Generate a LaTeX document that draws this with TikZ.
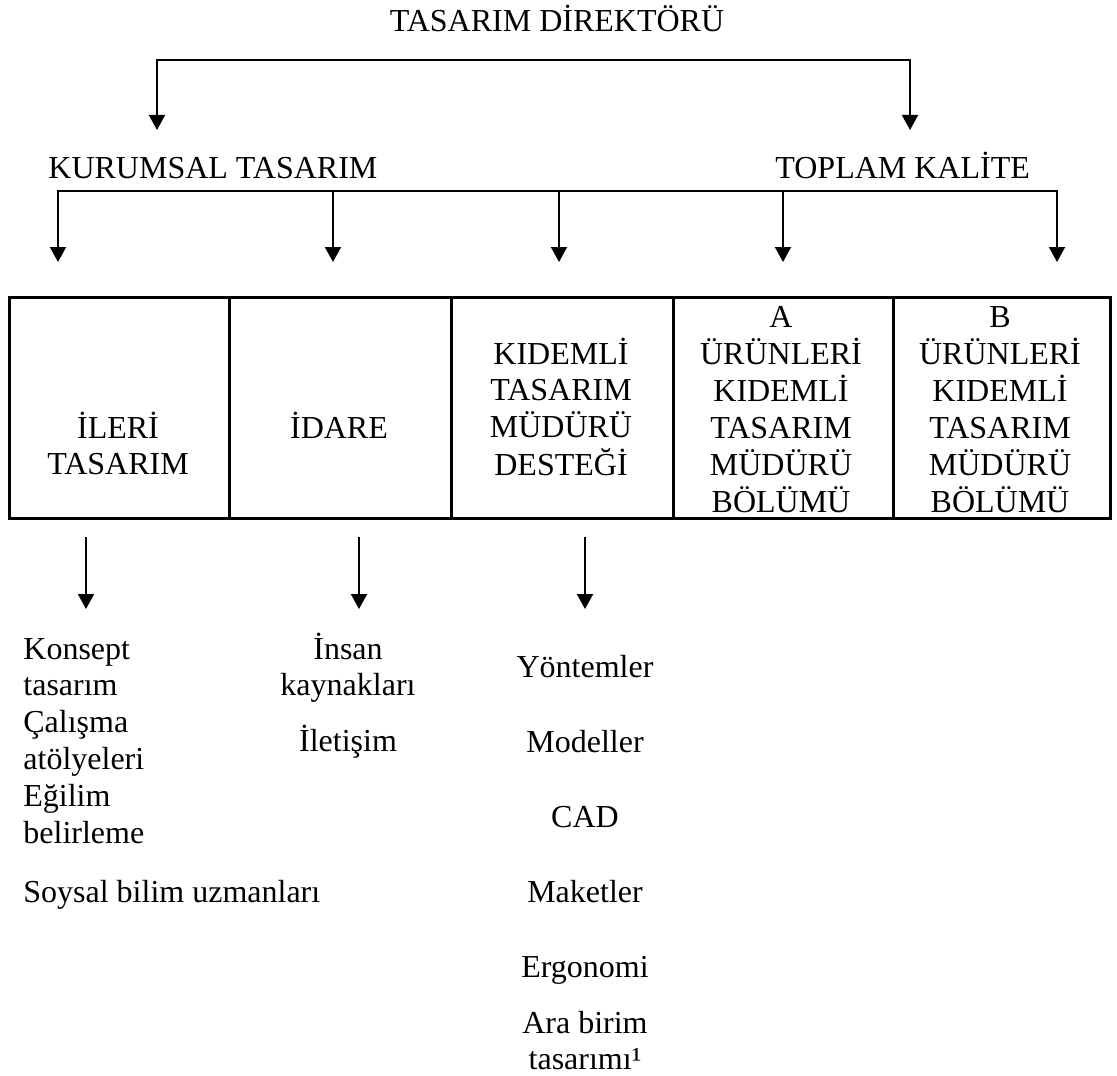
\documentclass[tikz,border=0pt]{standalone}
\usepackage{fontspec}
\setmainfont{Liberation Serif}
\usetikzlibrary{arrows.meta}

\tikzset{
  ok/.style={line width=1pt, -{Triangle[width=8pt,length=7.5pt]}},
  ciftok/.style={line width=1pt, {Triangle[width=8pt,length=7.5pt]}-{Triangle[width=8pt,length=7.5pt]}},
  hucre/.style={draw, line width=1.4pt, anchor=north west, minimum height=110.5pt, inner sep=0pt},
  yazi/.style={font=\fontsize{16}{18.4}\selectfont, inner sep=0pt},
}

\begin{document}
\begin{tikzpicture}[x=0.5pt, y=-0.5pt]
    \useasboundingbox (0,0) rectangle (1117,1075);

    % Top level
    \node[yazi, anchor=base] (baslik) at (557,32) {TASARIM DİREKTÖRÜ};
    \node[yazi, anchor=base west] (kurumsal) at (48,178) {KURUMSAL TASARIM};
    \node[yazi, anchor=base west] (kalite) at (775,178) {TOPLAM KALİTE};

    % Bracket under the director
    \coordinate (ustSol) at (157,130);
    \coordinate (ustOrta) at (557,60);
    \coordinate (ustSag) at (910,130);
    \draw[ciftok] (ustSol) |- (ustOrta) -| (ustSag);

    % Bracket over the table
    \foreach \x [count=\i] in {58,333,559,783,1057} {
        \coordinate (dal\i) at (\x,191);
        \coordinate (uc\i) at (\x,262);
    }
    \draw[ciftok] (uc1) |- (dal3) -| (uc5);
    \foreach \i in {2,3,4} {
        \draw[ok] (dal\i) -- (uc\i);
    }

    % Table cells
    \node[hucre, minimum width=110pt] (h1) at (8,296) {};
    \node[hucre, minimum width=111pt] (h2) at (228,296) {};
    \node[hucre, minimum width=111pt] (h3) at (450,296) {};
    \node[hucre, minimum width=110pt] (h4) at (672,296) {};
    \node[hucre, minimum width=108.5pt] (h5) at (892,296) {};

    % Cell texts
    \node[yazi, anchor=base] (ileri) at (118,438) {
        \begin{tabular}[t]{@{}c@{}}
        İLERİ\\
        TASARIM
        \end{tabular}
    };
    \node[yazi, anchor=base] (idare) at (339,438) {İDARE};
    \node[yazi, anchor=base] (destek) at (561,364) {
        \begin{tabular}[t]{@{}c@{}}
        KIDEMLİ\\
        TASARIM\\
        MÜDÜRÜ\\
        DESTEĞİ
        \end{tabular}
    };
    \node[yazi, anchor=base] (urunA) at (781,327) {
        \begin{tabular}[t]{@{}c@{}}
        A\\
        ÜRÜNLERİ\\
        KIDEMLİ\\
        TASARIM\\
        MÜDÜRÜ\\
        BÖLÜMÜ
        \end{tabular}
    };
    \node[yazi, anchor=base] (urunB) at (1000,327) {
        \begin{tabular}[t]{@{}c@{}}
        B\\
        ÜRÜNLERİ\\
        KIDEMLİ\\
        TASARIM\\
        MÜDÜRÜ\\
        BÖLÜMÜ
        \end{tabular}
    };

    % Arrows below the table
    \foreach \x [count=\i] in {86,359,585} {
        \coordinate (alt\i) at (\x,537);
        \coordinate (altuc\i) at (\x,609);
        \draw[ok] (alt\i) -- (altuc\i);
    }

    % Lists
    \node[yazi, anchor=base west] (liste1) at (23,659) {
        \begin{tabular}[t]{@{}l@{}}
        Konsept\\
        tasarım\\
        Çalışma\\
        atölyeleri\\
        Eğilim\\
        belirleme
        \end{tabular}
    };
    \node[yazi, anchor=base west] (soysal) at (23,902) {Soysal bilim uzmanları};
    \node[yazi, anchor=base] (liste2) at (348,659) {
        \begin{tabular}[t]{@{}c@{}}
        İnsan\\
        kaynakları\\[9.1pt]
        İletişim
        \end{tabular}
    };
    \node[yazi, anchor=base] (liste3) at (585,677) {
        \begin{tabular}[t]{@{}c@{}}
        Yöntemler\\[19.1pt]
        Modeller\\[19.1pt]
        CAD\\[19.1pt]
        Maketler\\[19.1pt]
        Ergonomi\\[9.6pt]
        Ara birim\\
        tasarımı¹
        \end{tabular}
    };
\end{tikzpicture}
\end{document}
